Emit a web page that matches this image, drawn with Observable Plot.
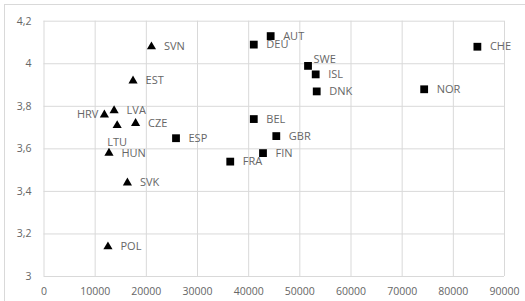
<!DOCTYPE html>
<html>
<head>
<meta charset="utf-8">
<script src="https://cdn.jsdelivr.net/npm/d3@7"></script>
<script src="https://cdn.jsdelivr.net/npm/@observablehq/plot@0.6"></script>
<style>
  html, body { margin: 0; padding: 0; background: #fff; overflow: hidden; }
  #wrap { position: relative; width: 525px; height: 301px; }
  #frame { position: absolute; left: 4px; top: 4px; width: 700px; height: 500px; border: 1px solid #d9d9d9; box-sizing: border-box; }
  #chart { position: absolute; left: 0; top: 0; }
</style>
</head>
<body>
<div id="wrap"><div id="frame"></div><div id="chart"></div></div>
<script>
// Data
const countries = ["SVN","EST","HRV","LVA","LTU","CZE","HUN","SVK","POL",
                   "ESP","FRA","FIN","AUT","DEU","SWE","ISL","DNK","NOR","CHE","BEL","GBR"];
const gdp =       [21000,17400,11800,13700,14300,17900,12700,16300,12500,
                   25800,36400,42800,44300,41000,51600,53100,53300,74300,84700,41000,45400];
const score =     [4.08,3.92,3.76,3.78,3.71,3.72,3.58,3.44,3.14,
                   3.65,3.54,3.58,4.13,4.09,3.99,3.95,3.87,3.88,4.08,3.74,3.66];
const groups =    ["tri","tri","tri","tri","tri","tri","tri","tri","tri",
                   "sq","sq","sq","sq","sq","sq","sq","sq","sq","sq","sq","sq"];
const xTicks = [0,10000,20000,30000,40000,50000,60000,70000,80000,90000];
const yTicks = [3,3.2,3.4,3.6,3.8,4,4.2];

// label placement (not data)
const placement = {HRV: "left", LTU: "below", SWE: "aboveRight"};

const rows = countries.map((c, i) => ({c, x: gdp[i], y: score[i], g: groups[i], p: placement[c] || "right"}));

const fmtY = d => String(+d.toFixed(1)).replace(".", ",");
const grey = "#666";
const font = "'Open Sans', sans-serif";

const plot = Plot.plot({
  width: 525,
  height: 301,
  marginLeft: 43.5,
  marginRight: 21,
  marginTop: 20.7,
  marginBottom: 25,
  style: {background: "transparent", fontFamily: font, fontSize: "10.5px", color: grey},
  x: {domain: [0, 90000], ticks: xTicks},
  y: {domain: [3, 4.2], ticks: yTicks},
  marks: [
    Plot.gridX(xTicks, {stroke: "#d9d9d9", strokeOpacity: 1}),
    Plot.gridY(yTicks, {stroke: "#d9d9d9", strokeOpacity: 1}),
    Plot.axisX(xTicks, {tickSize: 0, tickPadding: 11, tickFormat: d3.format("d"), label: null, fill: grey}),
    Plot.axisY(yTicks, {tickSize: 0, tickPadding: 12.5, tickFormat: fmtY, label: null, fill: grey}),
    Plot.dot(rows.filter(d => d.g === "sq"), {x: "x", y: "y", symbol: "square", r: 4.4, fill: "#000", stroke: "none"}),
    Plot.dot(rows.filter(d => d.g === "tri"), {x: "x", y: "y", symbol: "triangle", r: 3.4, fill: "#000", stroke: "none"}),
    Plot.text(rows.filter(d => d.p === "right"), {x: "x", y: "y", text: "c", dx: 12.5, textAnchor: "start", fill: grey, fontSize: 11, fontFamily: font}),
    Plot.text(rows.filter(d => d.p === "left"), {x: "x", y: "y", text: "c", dx: -6, textAnchor: "end", fill: grey, fontSize: 11, fontFamily: font}),
    Plot.text(rows.filter(d => d.p === "below"), {x: "x", y: "y", text: "c", dy: 17, textAnchor: "middle", fill: grey, fontSize: 11, fontFamily: font}),
    Plot.text(rows.filter(d => d.p === "aboveRight"), {x: "x", y: "y", text: "c", dx: 5.5, dy: -6.5, textAnchor: "start", fill: grey, fontSize: 11, fontFamily: font})
  ]
});
document.getElementById("chart").appendChild(plot);
</script>
</body>
</html>
